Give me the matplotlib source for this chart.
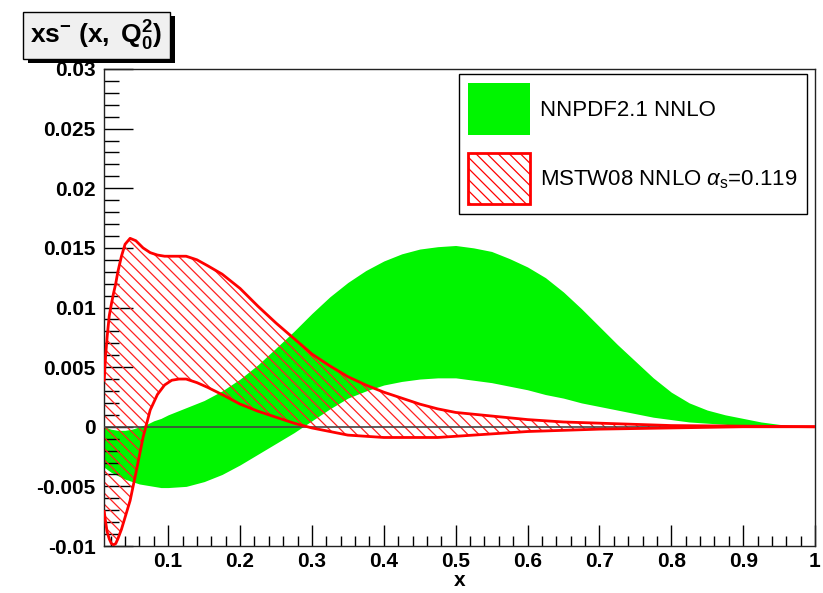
import matplotlib
matplotlib.use('Agg')
import matplotlib.pyplot as plt
from matplotlib.patches import Patch, Rectangle
from matplotlib.ticker import MultipleLocator

plt.rcParams['font.family'] = ['Liberation Sans', 'DejaVu Sans']
plt.rcParams['mathtext.fontset'] = 'custom'
plt.rcParams['mathtext.rm'] = 'Liberation Sans'
plt.rcParams['mathtext.it'] = 'Liberation Sans:italic'
plt.rcParams['mathtext.bf'] = 'Liberation Sans:bold'
plt.rcParams['hatch.linewidth'] = 0.9

# NNPDF2.1 NNLO band
x_nnpdf = [0.011, 0.02, 0.03, 0.04, 0.05, 0.06, 0.07, 0.08, 0.09,
           0.1, 0.125, 0.15, 0.175, 0.2, 0.225, 0.25, 0.275, 0.3, 0.325,
           0.35, 0.375, 0.4, 0.425, 0.45, 0.475, 0.5, 0.525, 0.55, 0.575,
           0.6, 0.625, 0.65, 0.675, 0.7, 0.725, 0.75, 0.775, 0.8, 0.825,
           0.85, 0.875, 0.9, 0.925, 0.95, 0.975, 1.0]
nnpdf_hi = [0.0000, -0.0002, -0.0003, -0.0003, -0.0002, 0.0000, 0.0002, 0.0005, 0.0007,
            0.0010, 0.0016, 0.0022, 0.0030, 0.0040, 0.0052, 0.0066, 0.0080, 0.0095, 0.0109,
            0.0121, 0.0131, 0.0139, 0.0145, 0.0149, 0.0151, 0.0152, 0.0150, 0.0147, 0.0141,
            0.0134, 0.0125, 0.0113, 0.0099, 0.0084, 0.0069, 0.0055, 0.0041, 0.0029, 0.0020,
            0.0014, 0.0010, 0.0007, 0.0004, 0.0002, 0.00005, 0.0]
nnpdf_lo = [-0.0034, -0.0038, -0.0041, -0.0044, -0.0046, -0.0048, -0.0049, -0.0050, -0.0051,
            -0.0051, -0.0050, -0.0046, -0.0040, -0.0032, -0.0023, -0.0014, -0.0005, 0.0005, 0.0015,
            0.0024, 0.0030, 0.0035, 0.0038, 0.0040, 0.0041, 0.0041, 0.0039, 0.0037, 0.0034,
            0.0031, 0.0027, 0.0024, 0.0020, 0.0017, 0.0014, 0.0011, 0.0008, 0.0006, 0.0004,
            0.0003, 0.0002, 0.0001, 0.00005, 0.0, 0.0, 0.0]

# MSTW08 NNLO band
x_mstw = [0.011, 0.013, 0.015, 0.018, 0.021, 0.024, 0.027, 0.03, 0.035, 0.04, 0.047,
          0.055, 0.065, 0.075, 0.085, 0.095, 0.105, 0.115, 0.125, 0.14, 0.155, 0.175,
          0.2, 0.225, 0.25, 0.275, 0.3, 0.325, 0.35, 0.375, 0.4, 0.425, 0.45, 0.475,
          0.5, 0.55, 0.6, 0.65, 0.7, 0.8, 0.9, 1.0]
mstw_hi = [0.0039, 0.0060, 0.0075, 0.0093, 0.0103, 0.0112, 0.0120, 0.0130, 0.0143, 0.0153, 0.0158,
           0.0156, 0.0150, 0.0146, 0.0144, 0.0143, 0.0143, 0.0143, 0.0143, 0.0140, 0.0135, 0.0128,
           0.0116, 0.0101, 0.0087, 0.0074, 0.0061, 0.0051, 0.0042, 0.0035, 0.0029, 0.0024, 0.0019, 0.0015,
           0.0012, 0.0009, 0.0006, 0.0004, 0.0003, 0.0001, 0.00005, 0.0]
mstw_lo = [-0.0071, -0.0080, -0.0088, -0.0094, -0.0098, -0.0099, -0.0098, -0.0094, -0.0086, -0.0076, -0.0062,
           -0.0039, -0.0009, 0.0014, 0.0027, 0.0035, 0.0039, 0.0040, 0.0040, 0.0037, 0.0033, 0.0027,
           0.0019, 0.0013, 0.0008, 0.0003, -0.0001, -0.0004, -0.0007, -0.0008, -0.0009, -0.0009, -0.0009, -0.0009,
           -0.0008, -0.0006, -0.0004, -0.0003, -0.0002, -0.0001, 0.0, 0.0]

yticks = [-0.01, -0.005, 0, 0.005, 0.01, 0.015, 0.02, 0.025, 0.03]
ylabels = ['-0.01', '-0.005', '0', '0.005', '0.01', '0.015', '0.02', '0.025', '0.03']
xticks = [0.1, 0.2, 0.3, 0.4, 0.5, 0.6, 0.7, 0.8, 0.9, 1.0]
xlabels = ['0.1', '0.2', '0.3', '0.4', '0.5', '0.6', '0.7', '0.8', '0.9', '1']

W, H = 823, 593
fig = plt.figure(figsize=(W / 100, H / 100), dpi=100)
ax = fig.add_axes([104 / W, 1 - 546 / H, (815 - 104) / W, (546 - 69) / H])

green = '#00f500'
ax.fill_between(x_nnpdf, nnpdf_lo, nnpdf_hi, color=green, lw=0, zorder=1)
ax.fill_between(x_mstw, mstw_lo, mstw_hi, facecolor='none', edgecolor='#ff2020',
                hatch='\\\\\\', lw=0, zorder=2)
ax.axhline(0, color='#444444', lw=1.2, zorder=3)
ax.plot(x_mstw, mstw_hi, color='red', lw=2, zorder=4)
ax.plot(x_mstw, mstw_lo, color='red', lw=2, zorder=4)

ax.set_xlim(0.0107, 1.0)
ax.set_ylim(-0.01, 0.03)
ax.set_yticks(yticks)
ax.set_yticklabels(ylabels)
ax.set_xticks(xticks)
ax.set_xticklabels(xlabels)
ax.yaxis.set_minor_locator(MultipleLocator(0.001))
ax.xaxis.set_minor_locator(MultipleLocator(0.02))
ax.tick_params(axis='both', which='both', direction='in', top=False, right=False,
               colors='black', width=1)
ax.tick_params(axis='y', which='major', length=21, pad=6, labelsize=15)
ax.tick_params(axis='y', which='minor', length=11)
ax.tick_params(axis='x', which='major', length=15, pad=4, labelsize=15)
ax.tick_params(axis='x', which='minor', length=7)
for lab in ax.get_xticklabels() + ax.get_yticklabels():
    lab.set_fontweight('bold')
for sp in ax.spines.values():
    sp.set_linewidth(1)
    sp.set_color('#222222')
ax.set_xlabel('x', fontsize=15, fontweight='bold', labelpad=0)

handles = [Patch(facecolor=green, edgecolor='none'),
           Patch(facecolor='white', edgecolor='red', hatch='\\\\\\', lw=2)]
labels = ['NNPDF2.1 NNLO', r'MSTW08 NNLO $\alpha_{\mathrm{s}}$=0.119']
leg = ax.legend(handles, labels, loc='upper right', fontsize=16,
                bbox_to_anchor=(807 / W, 1 - 74 / H), bbox_transform=fig.transFigure,
                borderaxespad=0, fancybox=False, framealpha=1, edgecolor='black',
                handlelength=2.8, handleheight=3.2, labelspacing=0.8,
                handletextpad=0.45, borderpad=0.42)
leg.get_frame().set_linewidth(1)
leg.set_zorder(10)

# title box with ROOT-like shadow
fig.add_artist(Rectangle((28 / W, 1 - 63 / H), 147 / W, 47 / H, transform=fig.transFigure,
                         facecolor='black', edgecolor='black', lw=0))
fig.add_artist(Rectangle((23 / W, 1 - 59 / H), 147 / W, 47 / H, transform=fig.transFigure,
                         facecolor='#f0f0f0', edgecolor='black', lw=1))
fig.text(96 / W, 1 - 36 / H, r'$\mathbf{xs^{-}\ (x,\ Q_{0}^{2})}$', fontsize=19,
         ha='center', va='center')

fig.savefig('out.png', dpi=100)
